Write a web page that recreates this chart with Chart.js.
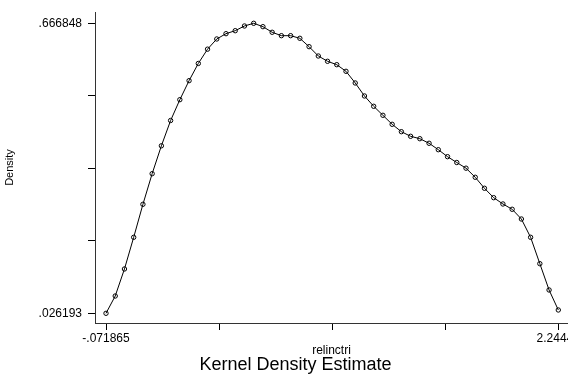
<!DOCTYPE html>
<html>
<head>
<meta charset="utf-8">
<script src="https://cdn.jsdelivr.net/npm/chart.js@4.4.1/dist/chart.umd.min.js"></script>
<style>
  html, body { margin: 0; padding: 0; background: #fff; }
  #wrap { position: relative; width: 568px; height: 374px; }
</style>
</head>
<body>
<div id="wrap"><canvas id="kdeChart"></canvas></div>
<script>
// kdensity evaluation points (relinctri) and estimated density
const gridX = [
  -0.071865, -0.024594, 0.022678, 0.069949, 0.117220, 0.164492, 0.211763, 0.259034, 0.306305, 0.353577,
  0.400848, 0.448119, 0.495391, 0.542662, 0.589933, 0.637205, 0.684476, 0.731747, 0.779018, 0.826290,
  0.873561, 0.920832, 0.968104, 1.015375, 1.062646, 1.109918, 1.157189, 1.204460, 1.251731, 1.299003,
  1.346274, 1.393545, 1.440817, 1.488088, 1.535359, 1.582631, 1.629902, 1.677173, 1.724444, 1.771716,
  1.818987, 1.866258, 1.913530, 1.960801, 2.008072, 2.055344, 2.102615, 2.149886, 2.197157, 2.244430
];
const density = [
  0.026193, 0.0644, 0.1241, 0.1941, 0.2670, 0.3346, 0.3962, 0.4521, 0.4981, 0.5401,
  0.5781, 0.6097, 0.6322, 0.6439, 0.6505, 0.6609, 0.666848, 0.6594, 0.6470, 0.6395,
  0.6395, 0.6337, 0.6152, 0.5946, 0.5829, 0.5754, 0.5608, 0.5350, 0.5063, 0.4835,
  0.4636, 0.4437, 0.4274, 0.4172, 0.4119, 0.4018, 0.3876, 0.3722, 0.3593, 0.3468,
  0.3267, 0.3024, 0.2816, 0.2677, 0.2560, 0.2345, 0.1941, 0.1358, 0.0777, 0.0335
];

const xTickValues = [-0.071865, 0.507209, 1.086283, 1.665356, 2.24443];
const xTickLabels = ['-.071865', '', '', '', '2.24443'];
const yTickValues = [0.026193, 0.186357, 0.346520, 0.506684, 0.666848];
const yTickLabels = ['.026193', '', '', '', '.666848'];

const FONT = "'Liberation Sans', Arial, sans-serif";

new Chart(document.getElementById('kdeChart'), {
  type: 'scatter',
  data: {
    datasets: [{
      data: gridX.map((x, i) => ({ x: x, y: density[i] })),
      showLine: true,
      borderColor: '#000',
      borderWidth: 1,
      tension: 0,
      pointRadius: 2.2,
      pointHoverRadius: 0,
      pointBorderWidth: 1,
      pointBorderColor: '#000',
      pointBackgroundColor: 'rgba(255,255,255,0)'
    }]
  },
  options: {
    responsive: true,
    maintainAspectRatio: false,
    animation: false,
    devicePixelRatio: 1,
    layout: { autoPadding: false, padding: { left: 23, top: 12, right: 0, bottom: 0 } },
    plugins: {
      legend: { display: false },
      tooltip: { enabled: false },
      title: {
        display: true,
        position: 'bottom',
        fullSize: true,
        text: 'Kernel Density Estimate',
        color: '#000',
        font: { family: FONT, size: 18, weight: 'normal', lineHeight: 1 },
        padding: { top: 2, bottom: 0 }
      }
    },
    scales: {
      x: {
        type: 'linear',
        min: -0.1282, max: 2.2941,
        afterBuildTicks: s => { s.ticks = xTickValues.map(v => ({ value: v })); },
        afterFit: s => { s.height = 31; s.paddingLeft = 0; s.paddingRight = 0; },
        grid: { drawOnChartArea: false, drawTicks: true, tickLength: 7, color: '#000' },
        border: { display: true, color: '#333', width: 1 },
        ticks: {
          autoSkip: false, maxRotation: 0, padding: 1, color: '#000',
          font: { family: FONT, size: 12 },
          callback: (v, i) => xTickLabels[i]
        },
        title: {
          display: true, text: 'relinctri', color: '#000',
          font: { family: FONT, size: 12, lineHeight: 1 },
          padding: { top: 0, bottom: -3 }
        }
      },
      y: {
        type: 'linear',
        min: 0.00476, max: 0.6918,
        afterBuildTicks: s => { s.ticks = yTickValues.map(v => ({ value: v })); },
        afterFit: s => { s.width = 72; s.paddingTop = 0; s.paddingBottom = 0; },
        grid: { drawOnChartArea: false, drawTicks: true, tickLength: 7, color: '#000' },
        border: { display: true, color: '#333', width: 1 },
        ticks: {
          autoSkip: false, padding: 6, color: '#000',
          font: { family: FONT, size: 12 },
          callback: (v, i) => yTickLabels[i]
        },
        title: {
          display: true, text: 'Density', color: '#000',
          font: { family: FONT, size: 11, lineHeight: 1 },
          padding: { top: -19, bottom: 0 }
        }
      }
    }
  }
});
</script>
</body>
</html>
